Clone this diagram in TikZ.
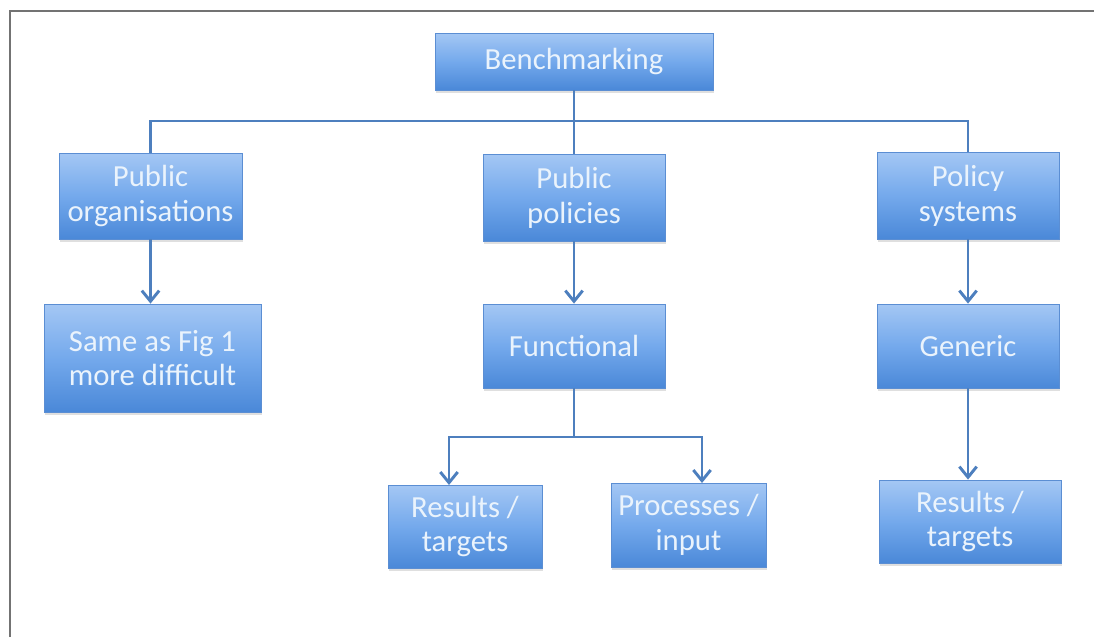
\documentclass[tikz,border=0pt]{standalone}
\usepackage{fontspec}
\setmainfont{Carlito}
\usetikzlibrary{arrows.meta,shadows}

\definecolor{boxtop}{HTML}{A4C7F4}
\definecolor{boxmid}{HTML}{74A9EC}
\definecolor{boxbot}{HTML}{4A88D8}
\definecolor{boxedge}{HTML}{5B8ED3}
\definecolor{linkblue}{HTML}{4D7FBE}
\definecolor{boxtext}{HTML}{EAF3FC}

\tikzset{blockbox/.style={rectangle,inner sep=0pt,draw=boxedge,line width=0.6pt,
           top color=boxtop,bottom color=boxbot,middle color=boxmid,
           text=boxtext,align=center,font=\fontsize{23}{26}\selectfont,
           drop shadow={opacity=0.25,shadow xshift=1pt,shadow yshift=-2.5pt}},
         connector/.style={linkblue,line width=2.2pt},
         arrowlink/.style={connector,-{Straight Barb[length=8pt,width=13pt]}}}

\begin{document}
\begin{tikzpicture}[x=0.75pt,y=-0.75pt]
                  \useasboundingbox (0,0) rectangle (1094,637);
                  \draw[line width=1.5pt,black!55] (9.5,637) -- (9.5,11) -- (1094,11);
                  % top level
                  \node[blockbox,minimum width=208.5pt,minimum height=42.75pt] (bench) at (574,61.5) {Benchmarking};
                  \node[blockbox,minimum width=137.25pt,minimum height=64.5pt] (puborg) at (150.5,196) {Public\\organisations};
                  \node[blockbox,minimum width=136.5pt,minimum height=65.25pt] (pubpol) at (574,197.5) {Public\\policies};
                  \node[blockbox,minimum width=136.5pt,minimum height=65.25pt] (polsys) at (968,195.5) {Policy\\systems};
                  % second level
                  \node[blockbox,minimum width=162.75pt,minimum height=81pt] (same) at (152.5,358) {Same as Fig 1\\more difficult};
                  \node[blockbox,minimum width=136.5pt,minimum height=63pt] (func) at (574,346) {Functional};
                  \node[blockbox,minimum width=136.5pt,minimum height=63pt] (gen) at (968,346) {Generic};
                  % third level
                  \node[blockbox,minimum width=115.5pt,minimum height=62.25pt] (resA) at (465,526.5) {Results /\\targets};
                  \node[blockbox,minimum width=116.25pt,minimum height=63pt] (proc) at (688.5,525) {Processes /\\input};
                  \node[blockbox,minimum width=136.5pt,minimum height=62.25pt] (resB) at (970,521.5) {Results /\\targets};
                  \coordinate (tipA) at (449,485);
                  \coordinate (tipP) at (702,483);
                  % connectors
                  \draw[connector] (bench.south) -- (pubpol.north);
                  \draw[connector] (puborg.north) |- (574,121) -| (polsys.north);
                  \draw[arrowlink] (puborg.south) -- (same.north -| puborg.south);
                  \draw[arrowlink] (pubpol.south) -- (func.north);
                  \draw[arrowlink] (polsys.south) -- (gen.north);
                  \draw[arrowlink] (gen.south) -- (resB.north -| gen.south);
                  \draw[connector] (func.south) -- (574,437);
                  \draw[arrowlink] (574,437) -| (tipA);
                  \draw[arrowlink] (574,437) -| (tipP);
              \end{tikzpicture}
\end{document}
